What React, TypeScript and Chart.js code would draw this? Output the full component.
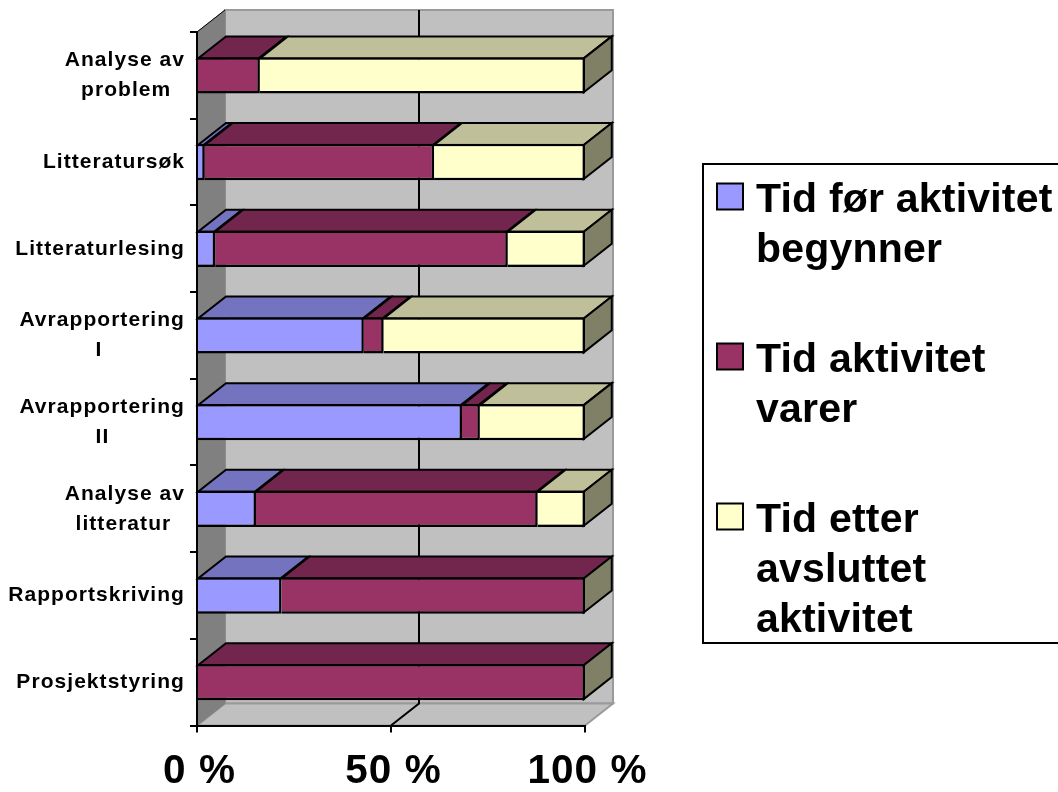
import React, { useEffect, useRef } from "react";
import { Chart, registerables } from "chart.js";

Chart.register(...registerables);

const FONT = "'Liberation Sans', Arial, sans-serif";

// Activities, top to bottom; each entry holds the wrapped lines of its label.
const categories: string[][] = [
  ["Analyse av", "problem"],
  ["Litteratursøk"],
  ["Litteraturlesing"],
  ["Avrapportering", "I"],
  ["Avrapportering", "II"],
  ["Analyse av", "litteratur"],
  ["Rapportskriving"],
  ["Prosjektstyring"],
];

// Share of the project (percent) before, during and after each activity.
const timeBefore = [0, 2, 4.7, 43, 68.3, 15.2, 21.8, 0];
const timeDuring = [16.2, 59.1, 75.4, 5.1, 4.6, 72.6, 78.2, 100];
const timeAfter = [83.8, 38.9, 19.9, 51.9, 27.1, 12.2, 0, 0];

const seriesNames: string[][] = [
  ["Tid før aktivitet", "begynner"],
  ["Tid aktivitet", "varer"],
  ["Tid etter", "avsluttet", "aktivitet"],
];
const seriesColors = ["#9999FF", "#993366", "#FFFFCC"];
const topColors = ["#7373BF", "#73264D", "#BFBF99"];
const SIDE_COLOR = "#808066";

const DEPTH_X = 28;
const DEPTH_Y = -22;
const EDGE = 2.5;
const FACE_EDGE = 2;

const LABEL_FONT = `bold 21px ${FONT}`;
const LABEL_SPACING = 1.05;

// Pads the shorter lines of a wrapped label so they sit centred on the longest one.
function centredLines(lines: string[]): string[] {
  if (lines.length < 2) return lines;
  const ctx = document.createElement("canvas").getContext("2d")!;
  ctx.font = LABEL_FONT;
  const width = (s: string) => ctx.measureText(s).width + s.length * LABEL_SPACING;
  const longest = Math.max(...lines.map(width));
  const space = width(" ");
  return lines.map((l) => l + " ".repeat(Math.round((longest - width(l)) / 2 / space)));
}

function polygon(ctx: CanvasRenderingContext2D, pts: number[][], fill: string | null, stroke: string | null, lw = 2) {
  ctx.beginPath();
  pts.forEach(([x, y], i) => (i ? ctx.lineTo(x, y) : ctx.moveTo(x, y)));
  ctx.closePath();
  if (fill) {
    ctx.fillStyle = fill;
    ctx.fill();
  }
  if (stroke) {
    ctx.strokeStyle = stroke;
    ctx.lineWidth = lw;
    ctx.stroke();
  }
}

// Side wall, back wall, floor and the gridlines running across them.
const wallsPlugin = {
  id: "walls",
  beforeDraw(chart: any) {
    const { ctx, chartArea: a, scales } = chart;
    const { left, right, top, bottom } = a;
    ctx.save();
    const dx = DEPTH_X;
    const dy = DEPTH_Y;
    polygon(ctx, [[left + dx, top + dy], [right + dx, top + dy], [right + dx, bottom + dy], [left + dx, bottom + dy]], "#C0C0C0", "#9A9A9A", 2);
    polygon(ctx, [[left, bottom], [right, bottom], [right + dx, bottom + dy], [left + dx, bottom + dy]], "#C0C0C0", "#9A9A9A", 2);
    polygon(ctx, [[left, top], [left + dx, top + dy], [left + dx, bottom + dy], [left, bottom]], "#808080", "#808080", 1);
    ctx.strokeStyle = "#000";
    ctx.lineWidth = 1;
    ctx.beginPath();
    ctx.moveTo(left, top);
    ctx.lineTo(left + dx, top + dy);
    ctx.stroke();

    const xMid = scales.x.getPixelForValue(50);
    ctx.lineWidth = 2;
    ctx.beginPath();
    ctx.moveTo(xMid + dx, top + dy);
    ctx.lineTo(xMid + dx, bottom + dy);
    ctx.lineTo(xMid, bottom);
    ctx.stroke();
    ctx.restore();
    // Inherited by the tick labels that the scales draw next.
    ctx.letterSpacing = `${LABEL_SPACING}px`;
  },
  // Upper and end faces of every bar segment, taken from the bar elements.
  beforeDatasetsDraw(chart: any) {
    const { ctx } = chart;
    ctx.save();
    ctx.lineJoin = "miter";
    chart.data.datasets.forEach((_: any, d: number) => {
      chart.getDatasetMeta(d).data.forEach((bar: any) => {
        const { x, y, base, height } = bar.getProps(["x", "y", "base", "height"], true);
        if (x - base < 0.01) return;
        const t = y - height / 2 + EDGE / 2;
        const b = y + height / 2 - EDGE / 2;
        const r = x - EDGE / 2;
        polygon(ctx, [[base, t], [r, t], [r + DEPTH_X, t + DEPTH_Y], [base + DEPTH_X, t + DEPTH_Y]], topColors[d], "#000", FACE_EDGE);
        if (x >= chart.scales.x.getPixelForValue(100) - 0.5) {
          polygon(ctx, [[r, t], [r + DEPTH_X, t + DEPTH_Y], [r + DEPTH_X, b + DEPTH_Y], [r, b]], SIDE_COLOR, "#000", FACE_EDGE);
        }
      });
    });
    ctx.restore();
  },
};

// Framed key to the right of the plot; each series name wraps over several lines.
const keyPlugin = {
  id: "key",
  afterDraw(chart: any) {
    const { ctx } = chart;
    ctx.save();
    ctx.letterSpacing = "0.2px";
    ctx.strokeStyle = "#000";
    ctx.lineWidth = 2;
    ctx.strokeRect(703, 164, 400, 479);
    ctx.font = `bold 41px ${FONT}`;
    ctx.textBaseline = "alphabetic";
    ctx.textAlign = "left";
    seriesNames.forEach((lines, i) => {
      const offset = i * 160;
      ctx.fillStyle = seriesColors[i];
      ctx.fillRect(717, 183.5 + offset, 26, 26);
      ctx.strokeRect(717, 183.5 + offset, 26, 26);
      ctx.fillStyle = "#000";
      lines.forEach((line, j) => ctx.fillText(line, 756, 212 + offset + j * 50));
    });
    ctx.restore();
  },
};

export default function App() {
  const ref = useRef<HTMLCanvasElement>(null);

  useEffect(() => {
    const series = [timeBefore, timeDuring, timeAfter];
    const chart = new Chart(ref.current!, {
      type: "bar",
      data: {
        labels: categories,
        datasets: series.map((data, i) => ({
          label: seriesNames[i].join(" "),
          data,
          backgroundColor: seriesColors[i],
          borderColor: "#000",
          borderWidth: (c: any) => (c.raw > 0 ? EDGE : 0),
          borderSkipped: "left",
          barPercentage: 0.42,
          categoryPercentage: 1,
        })),
      } as any,
      options: {
        indexAxis: "y",
        responsive: false,
        animation: false,
        layout: { padding: { top: 32, right: 473, left: 0, bottom: 0 } },
        plugins: { legend: { display: false }, tooltip: { enabled: false } },
        scales: {
          x: {
            stacked: true,
            min: 0,
            max: 100,
            afterFit: (s: any) => {
              s.height = 66.5;
            },
            grid: { drawOnChartArea: false, color: "#000", lineWidth: 2, tickLength: 7 },
            border: { color: "#000", width: 2, z: 1 },
            ticks: {
              stepSize: 50,
              autoSkip: false,
              maxRotation: 0,
              padding: 15,
              labelOffset: 2.5,
              color: "#000",
              font: { family: FONT, size: 40.5, weight: "bold" },
              callback: (v: any) => `${v} %`,
            },
          },
          y: {
            stacked: true,
            afterFit: (s: any) => {
              s.width = 197;
            },
            grid: { drawOnChartArea: false, color: "#000", lineWidth: 2, tickLength: 7, offset: true },
            border: { color: "#000", width: 2, z: 1 },
            ticks: {
              autoSkip: false,
              padding: 5,
              color: "#000",
              font: { family: FONT, size: 21, weight: "bold", lineHeight: 1.43 },
              callback: (_: any, i: number) => centredLines(categories[i]),
            },
          },
        },
      } as any,
      plugins: [wallsPlugin, keyPlugin],
    });
    return () => chart.destroy();
  }, []);

  return (
    <div style={{ position: "absolute", left: 0, top: 0, width: 1058, height: 792, overflow: "hidden" }}>
      <canvas ref={ref} width={1058} height={792} style={{ display: "block" }} />
    </div>
  );
}
